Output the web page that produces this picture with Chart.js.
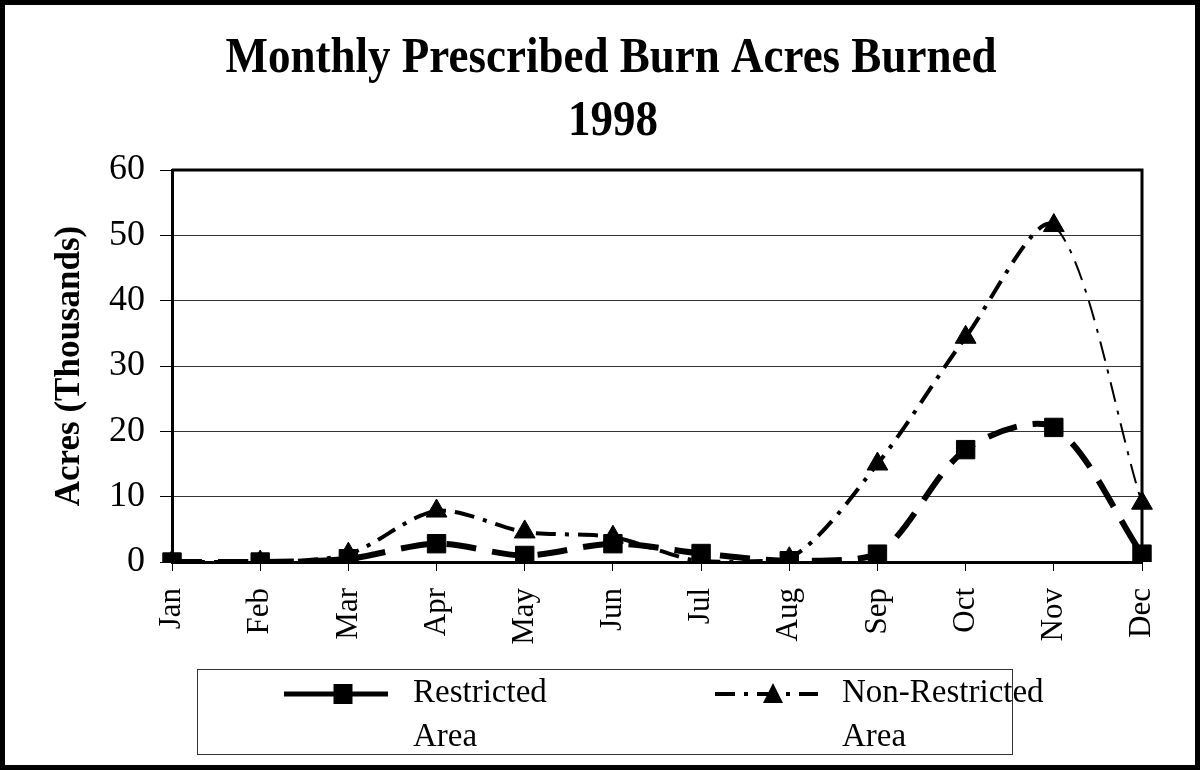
<!DOCTYPE html>
<html lang="en">

<head>
    <meta charset="UTF-8">
    <title>Monthly Prescribed Burn Acres Burned 1998</title>
    <script src="https://cdn.jsdelivr.net/npm/chart.js"></script>
    <style>
        html, body { margin: 0; padding: 0; background: #fff; }
        #wrap { width: 1200px; height: 770px; }
    </style>
</head>

<body>
    <div id="wrap">
        <canvas id="myChart" width="1200" height="770"></canvas>
    </div>
</body>

<script>
    // data (thousands of acres)
    const months = ['Jan', 'Feb', 'Mar', 'Apr', 'May', 'Jun', 'Jul', 'Aug', 'Sep', 'Oct', 'Nov', 'Dec'];
    const restricted = [0, 0, 0.5, 2.8, 1.0, 2.8, 1.3, 0.2, 1.2, 17.2, 20.6, 1.2];
    const nonRestricted = [0, 0, 1.2, 7.8, 4.6, 3.8, 0.1, 0.5, 15.0, 34.4, 51.5, 9.0];
    const yTicks = [0, 10, 20, 30, 40, 50, 60];
    const titleLines = ['Monthly Prescribed Burn Acres Burned', '1998'];
    const legendNames = [['Restricted', 'Area'], ['Non-Restricted', 'Area']];

    const serif = '"Liberation Serif", "Times New Roman", serif';
    const ctx = document.getElementById('myChart');

    // title, plot frame, outer border and the two-line legend
    const extras = {
        id: 'extras',
        afterDraw(chart) {
            const c = chart.ctx;
            const a = chart.chartArea;
            c.save();
            c.strokeStyle = '#000';
            c.fillStyle = '#000';

            // top and right side of plot box
            c.lineWidth = 3;
            c.beginPath();
            c.moveTo(a.left, a.top);
            c.lineTo(a.right, a.top);
            c.lineTo(a.right, a.bottom);
            c.stroke();

            // title (the original type is a bit taller than normal)
            c.save();
            c.textAlign = 'center';
            c.textBaseline = 'alphabetic';
            c.font = 'bold 45px ' + serif;
            c.scale(1, 1.14);
            c.fillText(titleLines[0], 611, 72 / 1.14);
            c.fillText(titleLines[1], 613, 135 / 1.14);
            c.restore();

            // outer border
            c.lineWidth = 5;
            c.strokeRect(2.5, 2.5, 1195, 765);

            // legend box
            c.lineWidth = 1;
            c.strokeStyle = '#333';
            c.strokeRect(197.5, 669.5, 815, 85);

            const spots = [
                { x0: 284, x1: 388, mx: 343, tx: 413 },
                { x0: 715, x1: 818, mx: 773, tx: 842 }
            ];
            chart.data.datasets.forEach(function (ds, i) {
                const s = spots[i];
                const y = 694;
                c.strokeStyle = '#000';
                c.lineWidth = i === 0 ? 5 : 4;
                c.setLineDash(i === 0 ? [] : [20, 9, 4, 9]);
                c.beginPath();
                c.moveTo(s.x0, y);
                c.lineTo(s.x1, y);
                c.stroke();
                c.setLineDash([]);
                c.beginPath();
                if (ds.pointStyle === 'rect') {
                    c.rect(s.mx - 9.5, y - 10, 19, 20);
                } else {
                    c.moveTo(s.mx, y - 11);
                    c.lineTo(s.mx + 10, y + 9);
                    c.lineTo(s.mx - 10, y + 9);
                    c.closePath();
                }
                c.fill();

                c.textAlign = 'left';
                c.textBaseline = 'middle';
                c.font = '33px ' + serif;
                c.fillText(legendNames[i][0], s.tx, 693);
                c.fillText(legendNames[i][1], s.tx, 737);
            });
            c.restore();
        }
    };

    const chart = new Chart(ctx, {
        type: 'line',
        data: {
            labels: months,
            datasets: [
                {
                    label: 'Restricted Area',
                    data: restricted,
                    borderColor: '#000',
                    backgroundColor: '#000',
                    borderWidth: 6,
                    borderDash: [30, 16],
                    tension: 0.3,
                    pointStyle: 'rect',
                    pointRadius: 13,
                    pointBorderWidth: 1,
                    pointBackgroundColor: '#000',
                    order: 2
                },
                {
                    label: 'Non-Restricted Area',
                    data: nonRestricted,
                    borderColor: '#000',
                    backgroundColor: '#000',
                    borderWidth: 4,
                    borderDash: [20, 9, 4, 9],
                    tension: 0.3,
                    pointStyle: 'triangle',
                    pointRadius: 12,
                    pointBorderWidth: 1,
                    pointBackgroundColor: '#000',
                    segment: {
                        borderWidth: s => s.p1DataIndex === 11 ? 2 : 4
                    },
                    order: 1
                }
            ]
        },
        options: {
            responsive: false,
            animation: false,
            layout: { padding: { top: 170, right: 58, bottom: 108, left: 0 } },
            plugins: {
                legend: { display: false },
                title: { display: false },
                tooltip: { enabled: false }
            },
            scales: {
                x: {
                    offset: false,
                    grid: { drawOnChartArea: false, drawTicks: true, tickLength: 9, color: '#000', lineWidth: 1 },
                    border: { display: true, color: '#000', width: 3 },
                    ticks: {
                        color: '#000',
                        font: { family: serif, size: 31 },
                        maxRotation: 90,
                        minRotation: 90,
                        autoSkip: false,
                        padding: 17
                    },
                    afterFit: s => { s.height = 100; }
                },
                y: {
                    min: 0,
                    max: 60,
                    afterBuildTicks: s => { s.ticks = yTicks.map(v => ({ value: v })); },
                    grid: { color: '#333', lineWidth: 1, tickLength: 12, tickColor: '#000' },
                    border: { color: '#000', width: 3 },
                    ticks: { color: '#000', font: { family: serif, size: 36 }, padding: 15 },
                    title: {
                        display: true,
                        text: 'Acres (Thousands)',
                        color: '#000',
                        font: { family: serif, size: 35, weight: 'bold' },
                        padding: { top: 49, bottom: 0 }
                    },
                    afterFit: s => { s.width = 172; }
                }
            }
        },
        plugins: [extras]
    });
</script>

</html>
